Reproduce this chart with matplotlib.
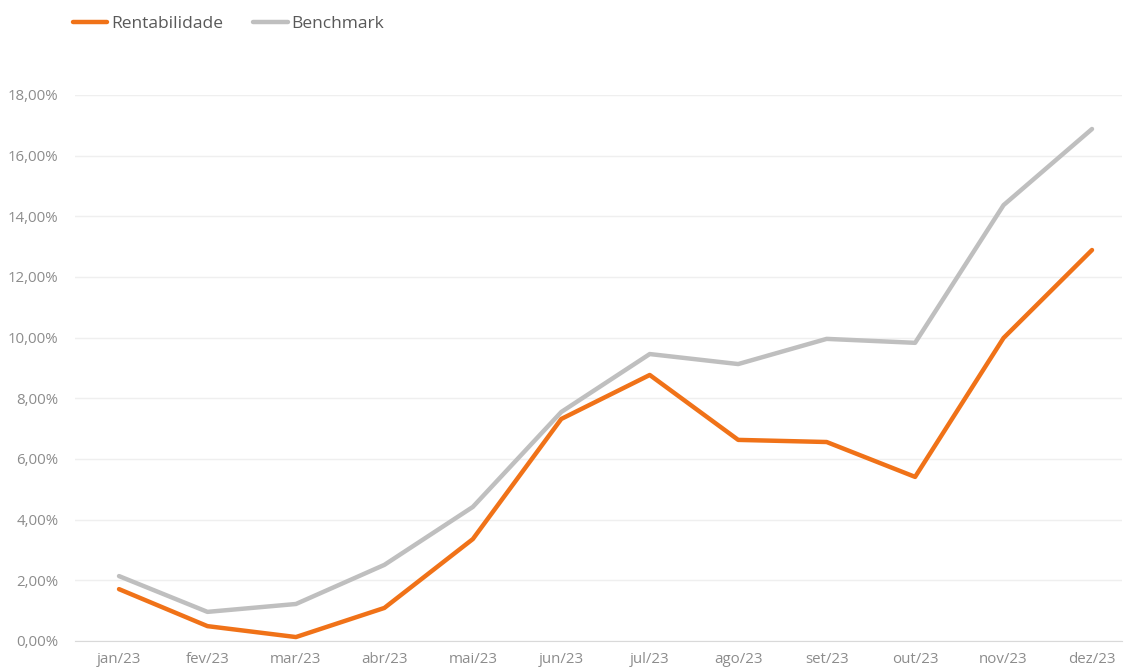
import numpy as np
import matplotlib
matplotlib.use("Agg")
import matplotlib.pyplot as plt
from matplotlib.ticker import FuncFormatter
from matplotlib.lines import Line2D

meses = ["jan/23", "fev/23", "mar/23", "abr/23", "mai/23", "jun/23",
         "jul/23", "ago/23", "set/23", "out/23", "nov/23", "dez/23"]
rentabilidade = [1.71, 0.49, 0.13, 1.09, 3.36, 7.32, 8.77, 6.63, 6.56, 5.41, 9.99, 12.89]
benchmark = [2.14, 0.96, 1.22, 2.51, 4.42, 7.55, 9.46, 9.13, 9.96, 9.83, 14.37, 16.88]

plt.rcParams['font.family'] = ['Open Sans', 'DejaVu Sans']

fig = plt.figure(figsize=(11.24, 6.68), dpi=100)
ax = fig.add_axes([75/1124, 27/668, 1047/1124, 546/668])

x = np.arange(len(meses))
laranja = "#F07218"
cinza = "#BFBFBF"
ax.plot(x, benchmark, color=cinza, lw=3.2, solid_capstyle="round", solid_joinstyle="round")
ax.plot(x, rentabilidade, color=laranja, lw=3.2, solid_capstyle="round", solid_joinstyle="round")

ax.set_xlim(-0.4975, len(meses) - 1 + 0.339)
ax.set_ylim(0, 18)
ax.set_yticks(np.arange(0, 19, 2))
ax.yaxis.set_major_formatter(FuncFormatter(lambda v, p: f"{v:.2f}%".replace(".", ",")))
ax.set_xticks(x)
ax.set_xticklabels(meses)
ax.grid(axis="y", color="#EFEFEF", lw=1)
ax.set_axisbelow(True)
for s in ["top", "right", "left"]:
    ax.spines[s].set_visible(False)
ax.spines["bottom"].set_color("#D9D9D9")
ax.tick_params(length=0, colors="#8C8C8C", labelsize=10.8)
ax.tick_params(axis="x", pad=8)
ax.tick_params(axis="y", pad=12)

handles = [Line2D([], [], color=laranja, lw=3.2, solid_capstyle="round"),
           Line2D([], [], color=cinza, lw=3.2, solid_capstyle="round")]
fig.legend(handles, ["Rentabilidade", "Benchmark"], loc="upper left",
           bbox_to_anchor=(57/1124, 1.0), ncol=2, frameon=False, fontsize=12.5,
           handlelength=2.0, handletextpad=0.2, columnspacing=1.75,
           labelcolor="#595959")

fig.savefig("out.png", dpi=100)
